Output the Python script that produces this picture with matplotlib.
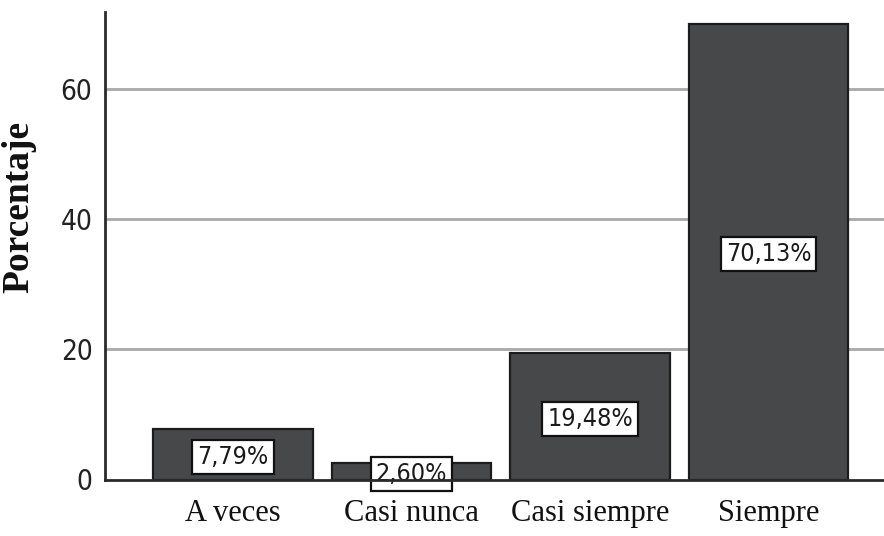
import matplotlib
matplotlib.use("Agg")
import matplotlib.pyplot as plt
import numpy as np

# datos
categorias = ["A veces", "Casi nunca", "Casi siempre", "Siempre"]
porcentajes = [7.79, 2.60, 19.48, 70.13]
etiquetas = ["7,79%", "2,60%", "19,48%", "70,13%"]
yticks = [0, 20, 40, 60]

sans_narrow = ["DejaVu Sans"]
serif = ["Liberation Serif", "DejaVu Serif"]

fig = plt.figure(figsize=(8.84, 5.36), dpi=100)
ax = fig.add_axes([105 / 884, 56.5 / 536, 779 / 884, 467.5 / 536])

x = np.arange(len(categorias))
ax.bar(x, porcentajes, width=0.896, color="#47484a", edgecolor="#1c1c1c",
       linewidth=1.6, zorder=3)

for xi, v, lab in zip(x, porcentajes, etiquetas):
    ax.text(xi, v / 2 - 0.4, lab, ha="center", va="center", fontsize=18,
            family=sans_narrow, fontstretch="condensed", color="#1a1a1a",
            zorder=4,
            bbox=dict(boxstyle="square,pad=0.2", facecolor="white",
                      edgecolor="#111111", linewidth=1.6))

ax.set_xlim(-0.717, 3.647)
ax.set_ylim(0, 71.9)

ax.set_yticks(yticks)
ax.set_yticklabels([str(t) for t in yticks], family=sans_narrow,
                   fontstretch="condensed", fontsize=20, color="#222222")
ax.set_xticks(x)
ax.set_xticklabels(categorias, family=serif, fontsize=22, color="#111111")
ax.tick_params(axis="both", length=0)
ax.tick_params(axis="x", pad=14)
ax.tick_params(axis="y", pad=9)

# lineas de referencia
for t in yticks[1:]:
    ax.axhline(t, color="#a8a8a8", linewidth=2, zorder=1)

for s in ["top", "right"]:
    ax.spines[s].set_visible(False)
for s in ["left", "bottom"]:
    ax.spines[s].set_color("#2a2a2a")
    ax.spines[s].set_linewidth(2)
    ax.spines[s].set_zorder(5)

ax.set_ylabel("Porcentaje", family=serif, fontsize=27, fontweight="bold",
              color="#111111")
ax.yaxis.set_label_coords(-0.088, 0.584)

fig.savefig("out.png", dpi=100)
